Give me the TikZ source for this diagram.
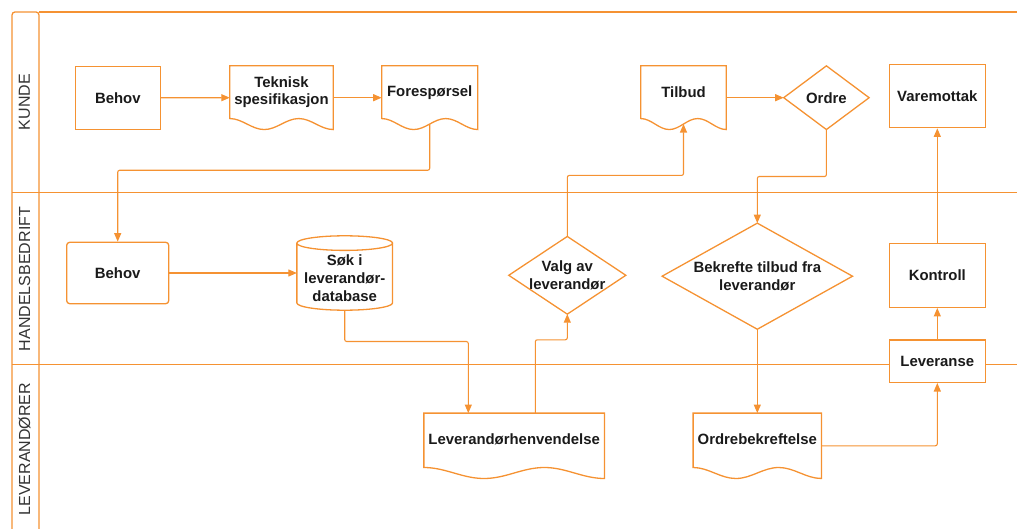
\documentclass[tikz,border=0pt]{standalone}
\usepackage{fontspec}
\setmainfont{Liberation Sans}
\usetikzlibrary{arrows.meta,calc}
\definecolor{org}{RGB}{245,146,50}
\definecolor{txtc}{RGB}{26,26,26}
\definecolor{lanec}{RGB}{51,51,51}
\tikzset{
 lane/.style={draw=org, line width=1.3pt},
 shp/.style={draw=org, line width=1.3pt},
 arr/.style={draw=org, line width=1.1pt, rounded corners=2pt, -{Triangle[length=8.5pt,width=7pt]}},
 txt/.style={font=\bfseries\fontsize{14.9}{17.8}\selectfont, text=txtc, align=center},
 procbox/.style={shp, txt, rectangle, fill=white, inner sep=0pt},
 plainbox/.style={txt, rectangle, inner sep=0pt},
 lanetxt/.style={font=\fontsize{16}{19}\selectfont, text=lanec, rotate=90, inner sep=0pt},
}
\newcommand\docoutline[1]{%
 \draw[shp] let \p1=(#1.south west), \p2=(#1.north east), \n1={\x2-\x1} in
 (\x1,\y2) -- (\x1,{\y1+11pt})
 .. controls ({\x1+0.121*\n1},{\y1+11pt}) and ({\x1+0.212*\n1},\y1) .. ({\x1+0.333*\n1},\y1)
 .. controls ({\x1+0.455*\n1},\y1) and ({\x1+0.545*\n1},{\y1+11pt}) .. ({\x1+0.667*\n1},{\y1+11pt})
 .. controls ({\x1+0.788*\n1},{\y1+11pt}) and ({\x1+0.879*\n1},\y1) .. (\x2,\y1)
 -- (\x2,\y2) -- cycle;}
\newcommand\cyloutline[1]{%
 \draw[shp] let \p1=(#1.south west), \p2=(#1.north east), \n1={(\x2-\x1)/2} in
 (\x1,{\y2-7.3pt}) -- (\x1,{\y1+7.3pt})
 arc[start angle=180, end angle=360, x radius={\n1*1pt}, y radius=7.3pt]
 -- (\x2,{\y2-7.3pt})
 ({\x1+\n1*1pt},{\y2-7.3pt}) ellipse [x radius={\n1*1pt}, y radius=7.3pt];}
\newcommand\diaoutline[1]{%
 \draw[shp] (#1.north) -- (#1.east) -- (#1.south) -- (#1.west) -- cycle;}
\begin{document}
\begin{tikzpicture}[x=1pt,y=-1pt]
\useasboundingbox (0,0) rectangle (1017,529);
% swimlanes
\draw[lane, rounded corners=3pt] (12,529) -- (12,12) -- (39,12) -- (39,529);
\draw[lane] (39,12) -- (1017,12);
\draw[lane] (12,192.5) -- (1017,192.5);
\draw[lane] (12,364.5) -- (1017,364.5);
\node[lanetxt] (lk) at (24.5,102) {KUNDE};
\node[lanetxt] (lh) at (24.5,279) {HANDELSBEDRIFT};
\node[lanetxt] (ll) at (24.5,449) {LEVERANDØRER};
% KUNDE
\node[procbox, minimum width=85pt, minimum height=63pt] (beh1) at (117.8,97.8) {Behov};
\node[plainbox, minimum width=103pt, minimum height=63.3pt,
  label={[name=tekL, txt, yshift=5.5pt]center:Teknisk\\spesifikasjon}] (tek) at (281.5,97.7) {};
\docoutline{tek}
\node[plainbox, minimum width=95.6pt, minimum height=63.3pt,
  label={[name=foreL, txt, yshift=5.5pt]center:Forespørsel}] (fore) at (429.7,97.7) {};
\docoutline{fore}
\node[plainbox, minimum width=85pt, minimum height=63.3pt,
  label={[name=tilbL, txt, yshift=6pt]center:Tilbud}] (tilb) at (683.5,97.7) {};
\docoutline{tilb}
\node[plainbox, minimum width=85pt, minimum height=63.3pt] (ordre) at (826.4,97.7) {Ordre};
\diaoutline{ordre}
\node[procbox, minimum width=96pt, minimum height=63.4pt] (vare) at (937.3,96) {Varemottak};
% HANDELSBEDRIFT
\node[procbox, rounded corners=3pt, minimum width=102pt, minimum height=61.4pt] (beh2) at (117.7,273) {Behov};
\node[plainbox, minimum width=95.3pt, minimum height=74pt,
  label={[name=sokL, txt, yshift=-5pt]center:Søk i\\leverandør-\\database}] (sok) at (344.7,273) {};
\cyloutline{sok}
\node[plainbox, minimum width=116.7pt, minimum height=77.3pt] (valg) at (567.3,275.3) {Valg av\\leverandør};
\diaoutline{valg}
\node[plainbox, minimum width=190pt, minimum height=105.7pt] (bekr) at (757.3,276.2) {Bekrefte tilbud fra\\leverandør};
\diaoutline{bekr}
\node[procbox, minimum width=96pt, minimum height=64pt] (kont) at (937.3,275.3) {Kontroll};
\node[procbox, minimum width=96pt, minimum height=42.3pt] (lev) at (937.3,361.2) {Leveranse};
% LEVERANDØRER
\node[plainbox, minimum width=180.3pt, minimum height=65pt,
  label={[name=levhL, txt, yshift=6.5pt]center:Leverandørhenvendelse}] (levh) at (514.2,445.8) {};
\docoutline{levh}
\node[plainbox, minimum width=128pt, minimum height=65pt,
  label={[name=ordbL, txt, yshift=6.5pt]center:Ordrebekreftelse}] (ordb) at (757.3,445.8) {};
\docoutline{ordb}
% connectors
\draw[arr] (beh1.east) -- (tek.west);
\draw[arr] (tek.east) -- (fore.west);
\draw[arr] ([yshift=5.5pt]fore.south) -- ++(0,46.2) -| (beh2.north);
\draw[arr] (tilb.east) -- (ordre.west);
\draw[arr] (ordre.south) -- ++(0,47) -| (bekr.north);
\draw[arr] (valg.north) -- ++(0,-61) -| ([yshift=5.5pt]tilb.south);
\draw[arr] (kont.north) -- (vare.south);
\draw[arr] (beh2.east) -- (sok.west);
\draw[arr] (sok.south) -- ++(0,31.3) -| ([xshift=-45.9pt]levh.north);
\draw[arr] ([xshift=21.1pt]levh.north) -- ++(0,-73.3) -| (valg.south);
\draw[arr] (bekr.south) -- (ordb.north);
\draw[arr] (ordb.east) -| (lev.south);
\draw[arr] (lev.north) -- (kont.south);
\end{tikzpicture}
\end{document}
